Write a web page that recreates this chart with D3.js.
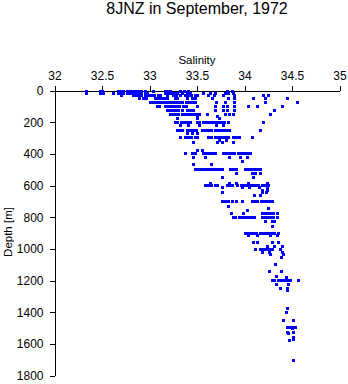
<!DOCTYPE html>
<html>
<head>
<meta charset="utf-8">
<script src="https://cdn.jsdelivr.net/npm/d3@7"></script>
<style>
  html, body { margin: 0; padding: 0; background: #fff; }
  svg { display: block; }
  text { font-family: "Liberation Sans", Arial, Helvetica, sans-serif; fill: #000; }
</style>
</head>
<body>
<svg id="chart" width="348" height="384"></svg>
<script>
// ---- data ----
const title = "8JNZ in September, 1972";
const xLabel = "Salinity";
const yLabel = "Depth [m]";
const salinityTicks = [32, 32.5, 33, 33.5, 34, 34.5, 35];
const depthTicks = [0, 200, 400, 600, 800, 1000, 1200, 1400, 1600, 1800];

// observation depths (m) and salinities observed at each depth
const depths = [6, 19, 32, 51, 76, 101, 126, 152, 164, 177, 202, 221, 253, 272, 297, 315, 328,
  379, 398, 423, 448, 467, 499, 524, 550, 587, 600, 613, 632, 644, 663,
  701, 733, 745, 758, 777, 802, 825, 859, 903, 915, 960, 985, 1004, 1023, 1036, 1055,
  1099, 1143, 1175, 1180, 1200, 1224, 1248, 1260, 1377, 1402, 1453, 1497, 1505, 1528, 1535,
  1560, 1570, 1579, 1706];
const salinities = [
  [32.34, 32.48, 32.51, 32.67, 32.70, 32.73, 32.77, 32.80, 32.83, 32.86, 32.89, 32.92, 32.96, 33.04, 33.17, 33.20, 33.22, 33.33, 33.37, 33.41, 33.82, 33.87],
  [32.34, 32.48, 32.52, 32.62, 32.67, 32.70, 32.73, 32.77, 32.80, 32.83, 32.86, 32.89, 32.92, 32.96, 32.98, 33.17, 33.20, 33.23, 33.26, 33.29, 33.35, 33.40, 33.43, 33.57, 33.64, 33.69, 33.80, 33.83, 33.88],
  [32.71, 32.83, 32.86, 32.89, 32.92, 32.96, 32.99, 33.02, 33.05, 33.09, 33.12, 33.19, 33.25, 33.28, 33.33, 33.38, 33.41, 33.44, 33.48, 33.51, 33.62, 33.68, 33.78, 33.90, 34.20, 34.25],
  [32.90, 32.94, 32.97, 33.06, 33.09, 33.13, 33.16, 33.19, 33.27, 33.30, 33.40, 33.45, 33.48, 33.66, 33.83, 33.90, 34.09, 34.22, 34.45],
  [33.01, 33.04, 33.06, 33.09, 33.13, 33.16, 33.19, 33.22, 33.25, 33.28, 33.32, 33.35, 33.39, 33.42, 33.45, 33.48, 33.71, 33.80, 33.90, 34.22, 34.56],
  [33.08, 33.11, 33.17, 33.20, 33.23, 33.26, 33.29, 33.32, 33.36, 33.39, 33.50, 33.69, 33.78, 33.82, 33.90, 34.04, 34.14, 34.40],
  [33.19, 33.22, 33.25, 33.28, 33.31, 33.35, 33.40, 33.43, 33.46, 33.69, 33.78, 33.82, 33.90, 34.32],
  [33.22, 33.25, 33.28, 33.31, 33.35, 33.38, 33.41, 33.44, 33.47, 33.50, 33.53, 33.61, 33.80, 33.84, 33.88, 34.27],
  [33.50, 33.72],
  [33.29, 33.50, 33.74],
  [33.27, 33.30, 33.34, 33.37, 33.40, 33.43, 33.50, 33.53, 33.57, 33.60, 33.63, 33.66, 33.69, 33.73, 33.76, 33.79, 33.83, 34.20],
  [33.33, 33.41, 33.53, 33.71, 33.78],
  [33.29, 33.32, 33.35, 33.40, 33.43, 33.46, 33.49, 33.56, 33.59, 33.62, 33.65, 33.69, 33.72, 33.75, 33.78, 33.81, 33.84, 34.17],
  [33.40, 33.45, 33.50],
  [33.33, 33.38, 33.41, 33.44, 33.48, 33.51, 33.62, 33.65, 33.69, 33.72, 33.75, 33.78, 33.81, 33.83, 33.88, 33.92, 33.95, 34.08],
  [33.74, 33.81],
  [33.46, 33.72, 33.77, 33.88],
  [33.50, 33.56],
  [33.38, 33.45, 33.48, 33.57, 33.60, 33.63, 33.66, 33.69, 33.78, 33.81, 33.84, 33.87, 33.90, 33.94, 33.97, 34.00, 34.03, 34.06],
  [33.46, 33.59, 33.84, 33.96, 34.03],
  [33.98],
  [33.46, 33.65],
  [33.48, 33.52, 33.55, 33.58, 33.61, 33.64, 33.67, 33.71, 33.74, 33.77, 33.85, 33.88, 33.92, 34.01, 34.04, 34.07, 34.10, 34.14, 34.17],
  [33.92, 34.08, 34.12, 34.17],
  [33.77, 34.09],
  [33.64, 33.84, 33.92, 34.04, 34.24],
  [33.59, 33.62, 33.65, 33.69, 33.72, 33.82, 33.85, 33.87, 33.93, 33.97, 34.00, 34.03, 34.06, 34.09, 34.12, 34.15, 34.19, 34.22, 34.25],
  [33.77, 33.98, 34.05, 34.16, 34.24],
  [34.19, 34.24],
  [33.77, 34.19, 34.23],
  [34.11, 34.17],
  [33.77, 33.80, 33.83, 33.87, 33.92, 33.98, 34.08, 34.11, 34.14, 34.18, 34.21, 34.24, 34.27, 34.29],
  [33.83],
  [34.25],
  [34.03],
  [33.86, 33.99, 34.19, 34.22, 34.25, 34.28, 34.31, 34.35],
  [33.88, 33.91, 33.95, 33.98, 34.01, 34.04, 34.07, 34.10, 34.19, 34.22, 34.25, 34.28, 34.31, 34.35],
  [34.22, 34.30, 34.32],
  [34.29],
  [34.01, 34.04, 34.07, 34.10, 34.13, 34.17, 34.20, 34.23, 34.26, 34.29, 34.32, 34.36],
  [34.04, 34.14, 34.27, 34.35],
  [34.09, 34.14, 34.29, 34.36],
  [34.24, 34.32, 34.40],
  [34.12, 34.17, 34.20, 34.23, 34.26, 34.29, 34.38],
  [34.19, 34.26, 34.40],
  [34.27, 34.41],
  [34.39],
  [34.33],
  [34.26, 34.39],
  [34.34],
  [34.44],
  [34.29, 34.32, 34.36, 34.39, 34.42, 34.45, 34.48, 34.57],
  [34.34, 34.46],
  [34.38, 34.45],
  [34.45],
  [34.45],
  [34.44],
  [34.41, 34.52],
  [34.45, 34.48, 34.52, 34.54],
  [34.50],
  [34.45, 34.52],
  [34.46],
  [34.52],
  [34.52],
  [34.47],
  [34.52]
];

// ---- chart ----
const svg = d3.select("#chart");
const x = d3.scaleLinear().domain([32, 35]).range([54, 339]);
const y = d3.scaleLinear().domain([0, 1800]).range([90, 375]);

const points = [];
depths.forEach((d, i) => salinities[i].forEach(s => points.push({ d, s })));

svg.append("text")
  .attr("x", 197).attr("y", 13.5)
  .attr("text-anchor", "middle")
  .style("font-size", "16px")
  .text(title);

svg.append("text")
  .attr("x", 197).attr("y", 64)
  .attr("text-anchor", "middle")
  .style("font-size", "11.5px")
  .text(xLabel);

svg.append("text")
  .attr("transform", "translate(12,232) rotate(-90)")
  .attr("text-anchor", "middle")
  .style("font-size", "11.5px")
  .text(yLabel);

const xAxis = svg.append("g")
  .attr("transform", "translate(0.5,90.5)")
  .call(d3.axisTop(x).tickValues(salinityTicks).tickSize(5).tickSizeOuter(0).tickPadding(6)
    .tickFormat(d3.format("")));
const yAxis = svg.append("g")
  .attr("transform", "translate(54.5,0.5)")
  .call(d3.axisLeft(y).tickValues(depthTicks).tickSize(5).tickSizeOuter(0).tickPadding(6)
    .tickFormat(d3.format("d")));

[xAxis, yAxis].forEach(g => {
  g.selectAll("path, line").attr("stroke", "#000").attr("shape-rendering", "crispEdges");
  g.selectAll("text").style("font-size", "12px")
    .style("font-family", '"Liberation Sans", Arial, Helvetica, sans-serif').attr("fill", "#000");
});

svg.append("g")
  .selectAll("rect")
  .data(points)
  .join("rect")
  .attr("x", p => Math.round(x(p.s)) - 1)
  .attr("y", p => Math.round(y(p.d)) - 1)
  .attr("width", 3)
  .attr("height", 3)
  .attr("fill", "#0000ff")
  .attr("shape-rendering", "crispEdges");
</script>
</body>
</html>
